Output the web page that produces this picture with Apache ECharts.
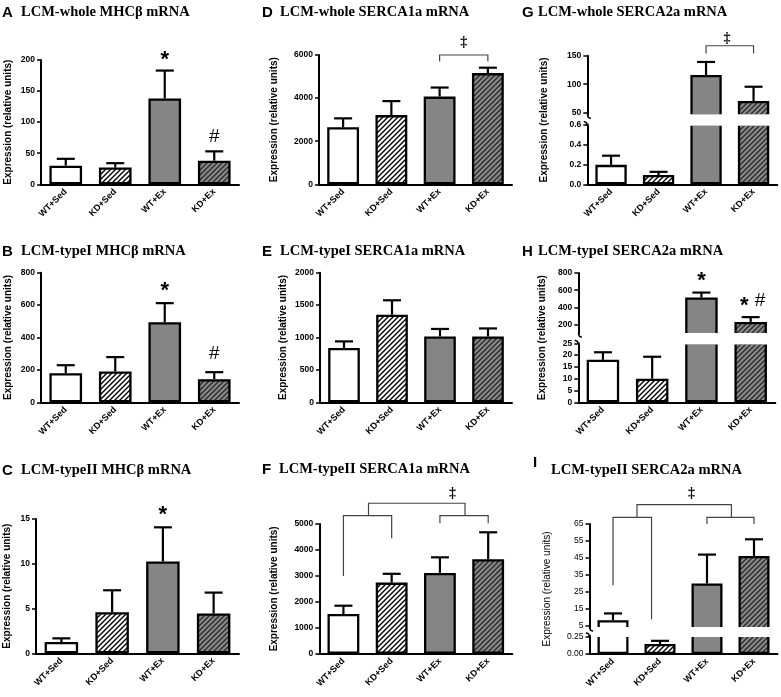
<!DOCTYPE html>
<html><head><meta charset="utf-8">
<script src="https://cdn.jsdelivr.net/npm/echarts@6/dist/echarts.min.js"></script>
<style>html,body{margin:0;padding:0;background:#fff}#c{width:781px;height:697px}</style>
</head><body><div id="c"></div>
<script>
// ---------------- DATA ----------------
const groups = ['WT+Sed', 'KD+Sed', 'WT+Ex', 'KD+Ex'];

// mean values and top of error bar (mean + SE)
const aMean = [30, 27, 138, 38];
const aErr  = [41, 34, 183, 53];
const bMean = [180, 190, 494, 143];
const bErr  = [229, 279, 612, 186];
const cMean = [1.26, 4.59, 10.26, 4.44];
const cErr  = [1.67, 7.04, 14.07, 6.78];
const dMean = [2650, 3210, 4070, 5160];
const dErr  = [3060, 3860, 4490, 5410];
const eMean = [837, 1352, 1016, 1016];
const eErr  = [940, 1574, 1132, 1140];
const fMean = [1530, 2740, 3110, 3640];
const fErr  = [1850, 3080, 3715, 4680];
const gMean = [0.195, 0.093, 116, 70.5];
const gErr  = [0.287, 0.125, 139, 95.5];
const hMean = [18, 10, 515, 231];
const hErr  = [21.2, 19.3, 573, 288];
const iMean = [8.4, 0.145, 30, 46.2];
const iErr  = [12.4, 0.19, 47, 56];

// y tick labels
const aTicks = [0, 50, 100, 150, 200];
const bTicks = [0, 200, 400, 600, 800];
const cTicks = [0, 5, 10, 15];
const dTicks = [0, 2000, 4000, 6000];
const eTicks = [0, 500, 1000, 1500, 2000];
const fTicks = [0, 1000, 2000, 3000, 4000, 5000];
const gUpTicks = [50, 100, 150];
const gLoTicks = [0, 0.2, 0.4, 0.6];
const hUpTicks = [200, 400, 600, 800];
const hLoTicks = [0, 5, 10, 15, 20, 25];
const iUpTicks = [5, 15, 25, 35, 45, 55, 65];
const iLoTicks = [0, 0.25];

// significance marks [text, category position, value]
const aMarks = [['*', 2, 208], ['#', 3, 76]];
const bMarks = [['*', 2, 718], ['#', 3, 300]];
const cMarks = [['*', 2, 16.0]];
const dMarks = [['‡', 2.5, 6571]];
const fMarks = [['‡', 2.26, 6195]];
const gMarks = [['‡', 2.44, 181]];
const hMarks = [['*', 2, 762], ['*', 2.87, 475], ['#', 3.19, 475]];
const iMarks = [['‡', 1.67, 83]];

// comparison brackets: polyline points [x, value]
const dBrackets = [[[2, 5700], [2, 6000], [3, 6000], [3, 5700]]];
const fBrackets = [
  [[0, 3000], [0, 5320], [1, 5320], [1, 4450]],
  [[2, 5030], [2, 5320], [3, 5320], [3, 5030]],
  [[0.52, 5320], [0.52, 5800], [2.52, 5800], [2.52, 5320]]
];
const gBrackets = [[[2, 154], [2, 167.5], [3, 167.5], [3, 154]]];
const iBrackets = [
  [[0, 29], [0, 68.9], [0.82, 68.9], [0.82, 9]],
  [[2, 65], [2, 68.9], [3, 68.9], [3, 65]],
  [[0.51, 68.9], [0.51, 76.4], [2.52, 76.4], [2.52, 68.9]]
];

// ---------------- STYLE / LAYOUT ----------------
const SANS = '"Liberation Sans", Arial, sans-serif';
const SERIF = '"Liberation Serif", "Times New Roman", serif';
const YNAME = 'Expression (relative units)';

function hatch(bg, fg) {
  const s = 5, c = document.createElement('canvas');
  c.width = c.height = s;
  const g = c.getContext('2d');
  g.fillStyle = bg; g.fillRect(0, 0, s, s);
  g.strokeStyle = fg; g.lineWidth = 1.4; g.beginPath();
  g.moveTo(-1, s + 1); g.lineTo(s + 1, -1);
  g.moveTo(-1, 1); g.lineTo(1, -1);
  g.moveTo(s - 1, s + 1); g.lineTo(s + 1, s - 1);
  g.stroke();
  return c;
}
const fills = ['#ffffff', { image: hatch('#ffffff', '#000000'), repeat: 'repeat' },
  '#858585', { image: hatch('#8a8a8a', '#2a2a2a'), repeat: 'repeat' }];

const MARK = {
  '*': { font: 'bold 22px ' + SANS, dy: 5 },
  '#': { font: '19px ' + SANS, dy: 0 },
  '‡': { font: 'bold 14px ' + SERIF, dy: 0 }
};

const option = {
  animation: false, backgroundColor: '#fff',
  title: [], grid: [], xAxis: [], yAxis: [], series: [], graphic: []
};

function addTitle(letter, lx, ly, text, tx, ty) {
  option.title.push({ text: letter, left: lx, top: ly, padding: 0,
    textStyle: { fontFamily: SANS, fontWeight: 'bold', fontSize: 15, color: '#000' } });
  option.title.push({ text: text, left: tx, top: ty, padding: 0,
    textStyle: { fontFamily: SERIF, fontWeight: 'bold', fontSize: 14.5, color: '#000' } });
}

function addGrid(p) {
  const gi = option.grid.length;
  option.grid.push({ left: p.box[0], top: p.box[1], width: p.box[2], height: p.box[3] });
  const xc = option.xAxis.length;
  option.xAxis.push({
    type: 'category', gridIndex: gi, data: groups, show: !!p.showX, boundaryGap: true,
    axisLine: { onZero: false, lineStyle: { color: '#000', width: 2 } },
    axisTick: { alignWithLabel: true, length: 4, lineStyle: { color: '#000', width: 1.5 } },
    axisLabel: { rotate: 45, interval: 0, fontSize: 9, fontWeight: 'bold', fontFamily: SANS, color: '#000', margin: 6 }
  });
  const xv = option.xAxis.length;
  option.xAxis.push({ type: 'value', gridIndex: gi, min: -0.5, max: 3.5, show: false, axisLine: { onZero: false } });
  const yi = option.yAxis.length;
  const y = {
    type: 'value', gridIndex: gi, min: p.min, max: p.max, position: 'left',
    axisLine: { show: true, onZero: false, lineStyle: { color: '#000', width: 2 } },
    axisTick: { show: true, length: 4, customValues: p.ticks, lineStyle: { color: '#000', width: 1.5 } },
    axisLabel: { customValues: p.ticks, fontSize: 8.5, fontWeight: p.light ? 'normal' : 'bold', fontFamily: SANS,
      color: '#000', margin: 6, formatter: p.fmt || (v => String(v)) },
    splitLine: { show: false }
  };
  if (p.nameGap) {
    y.name = YNAME; y.nameLocation = 'middle'; y.nameGap = p.nameGap;
    y.nameTextStyle = { fontSize: 10, fontWeight: 'bold', fontFamily: SANS, color: '#000' };
  }
  option.yAxis.push(y);

  option.series.push({
    type: 'bar', xAxisIndex: xc, yAxisIndex: yi, barWidth: '66%', silent: true,
    itemStyle: { borderColor: '#000', borderWidth: 2.3 },
    data: p.mean.map((v, i) => ({ value: v, itemStyle: { color: fills[i] } }))
  });

  const errData = p.mean.map((m, i) => [i, m, p.err[i]]).filter(d => d[1] >= p.min && d[1] <= p.max);
  option.series.push({
    type: 'custom', xAxisIndex: xv, yAxisIndex: yi, silent: true, z: 4, data: errData,
    renderItem(params, api) {
      const a = api.coord([api.value(0), api.value(1)]);
      const b = api.coord([api.value(0), api.value(2)]);
      const hw = 9;
      return { type: 'group', children: [
        { type: 'line', shape: { x1: a[0], y1: a[1], x2: b[0], y2: b[1] }, style: { stroke: '#000', lineWidth: 2.2 } },
        { type: 'line', shape: { x1: b[0] - hw, y1: b[1], x2: b[0] + hw, y2: b[1] }, style: { stroke: '#000', lineWidth: 2.2 } }
      ] };
    }
  });

  if (p.marks) {
    const marks = p.marks;
    option.series.push({
      type: 'custom', xAxisIndex: xv, yAxisIndex: yi, silent: true, z: 6,
      data: marks.map(m => [m[1], m[2]]),
      renderItem(params, api) {
        const m = marks[params.dataIndex];
        const pt = api.coord([api.value(0), api.value(1)]);
        const st = MARK[m[0]];
        return { type: 'text', x: pt[0], y: pt[1] + st.dy,
          style: { text: m[0], font: st.font, fill: '#000', align: 'center', verticalAlign: 'middle' } };
      }
    });
  }
  if (p.brackets) {
    option.series.push({
      type: 'custom', xAxisIndex: xv, yAxisIndex: yi, silent: true, z: 5,
      data: p.brackets.map(b => b.flat()),
      renderItem(params, api) {
        const pts = [];
        for (let k = 0; k < 4; k++) pts.push(api.coord([api.value(2 * k), api.value(2 * k + 1)]));
        return { type: 'polyline', shape: { points: pts }, style: { stroke: '#444', lineWidth: 1.2, fill: null } };
      }
    });
  }
}

function addBreak(up, lo, labelX, light) {
  const ax = up[0], ub = up[1] + up[3], lt = lo[1], right = up[0] + up[2];
  option.graphic.push({ type: 'rect', z: 100, silent: true,
    shape: { x: ax + 1.5, y: ub - 1.2, width: right - ax, height: lt - ub + 2.4 }, style: { fill: '#fff' } });
  option.graphic.push({ type: 'polyline', z: 101, silent: true,
    shape: { points: [[ax, ub - 1], [ax + 1, ub + 2], [ax + 3.5, ub + 3]] }, style: { stroke: '#000', lineWidth: 1.5, fill: null } });
  option.graphic.push({ type: 'polyline', z: 101, silent: true,
    shape: { points: [[ax, lt + 1], [ax - 1, lt - 2], [ax - 3.5, lt - 3]] }, style: { stroke: '#000', lineWidth: 1.5, fill: null } });
  option.graphic.push({ type: 'text', z: 101, silent: true, x: labelX, y: (up[1] + lo[1] + lo[3]) / 2, rotation: Math.PI / 2,
    style: { text: YNAME, font: (light ? '' : 'bold ') + '10px ' + SANS, fill: '#000', align: 'center', verticalAlign: 'middle' } });
}

// ---------------- PANELS ----------------
const L = {
  A: [41, 60, 198, 124.3], B: [41, 272.7, 198, 129.6], C: [36, 519, 203, 134.3],
  D: [319, 55, 193, 129.3], E: [320, 272.7, 192, 129.6], F: [319.3, 524, 193, 129.7],
  Gu: [587.3, 55.7, 190, 59.8], Gl: [587.3, 124.5, 190, 59.8],
  Hu: [578.3, 273, 197, 61.2], Hl: [578.3, 343.3, 197, 59],
  Iu: [589.5, 524, 188, 104.3], Il: [589.5, 635.7, 188, 18.3]
};

addTitle('A', 2, 5, 'LCM-whole MHCβ mRNA', 21, 5);
addTitle('B', 2, 244, 'LCM-typeI MHCβ mRNA', 21, 244);
addTitle('C', 2, 463, 'LCM-typeII MHCβ mRNA', 21, 463);
addTitle('D', 262, 5, 'LCM-whole SERCA1a mRNA', 280, 5);
addTitle('E', 262, 244, 'LCM-typeI SERCA1a mRNA', 280, 244);
addTitle('F', 262, 462, 'LCM-typeII SERCA1a mRNA', 279, 462);
addTitle('G', 522, 5, 'LCM-whole SERCA2a mRNA', 538, 5);
addTitle('H', 522, 244, 'LCM-typeI SERCA2a mRNA', 538, 244);
addTitle('I', 533, 455, 'LCM-typeII SERCA2a mRNA', 551, 463);

addGrid({ box: L.A, min: 0, max: 200, ticks: aTicks, mean: aMean, err: aErr, marks: aMarks, showX: true, nameGap: 28 });
addGrid({ box: L.B, min: 0, max: 800, ticks: bTicks, mean: bMean, err: bErr, marks: bMarks, showX: true, nameGap: 28 });
addGrid({ box: L.C, min: 0, max: 15, ticks: cTicks, mean: cMean, err: cErr, marks: cMarks, showX: true, nameGap: 24 });
addGrid({ box: L.D, min: 0, max: 6000, ticks: dTicks, mean: dMean, err: dErr, marks: dMarks, brackets: dBrackets, showX: true, nameGap: 40 });
addGrid({ box: L.E, min: 0, max: 2000, ticks: eTicks, mean: eMean, err: eErr, showX: true, nameGap: 32 });
addGrid({ box: L.F, min: 0, max: 5000, ticks: fTicks, mean: fMean, err: fErr, marks: fMarks, brackets: fBrackets, showX: true, nameGap: 40 });

addGrid({ box: L.Gu, min: 45, max: 150, ticks: gUpTicks, mean: gMean, err: gErr, marks: gMarks, brackets: gBrackets });
addGrid({ box: L.Gl, min: 0, max: 0.6, ticks: gLoTicks, mean: gMean, err: gErr, showX: true, fmt: v => v.toFixed(1) });
addBreak(L.Gu, L.Gl, 544);

addGrid({ box: L.Hu, min: 90, max: 800, ticks: hUpTicks, mean: hMean, err: hErr, marks: hMarks });
addGrid({ box: L.Hl, min: 0, max: 25, ticks: hLoTicks, mean: hMean, err: hErr, showX: true });
addBreak(L.Hu, L.Hl, 542.7);

addGrid({ box: L.Iu, min: 3.65, max: 65, ticks: iUpTicks, mean: iMean, err: iErr, brackets: iBrackets, marks: iMarks, light: true });
addGrid({ box: L.Il, min: 0, max: 0.264, ticks: iLoTicks, mean: iMean, err: iErr, showX: true, light: true, fmt: v => v.toFixed(2) });
addBreak(L.Iu, L.Il, 547.7, true);

const chart = echarts.init(document.getElementById('c'), null, { renderer: 'canvas' });
chart.setOption(option);
</script>
</body></html>
